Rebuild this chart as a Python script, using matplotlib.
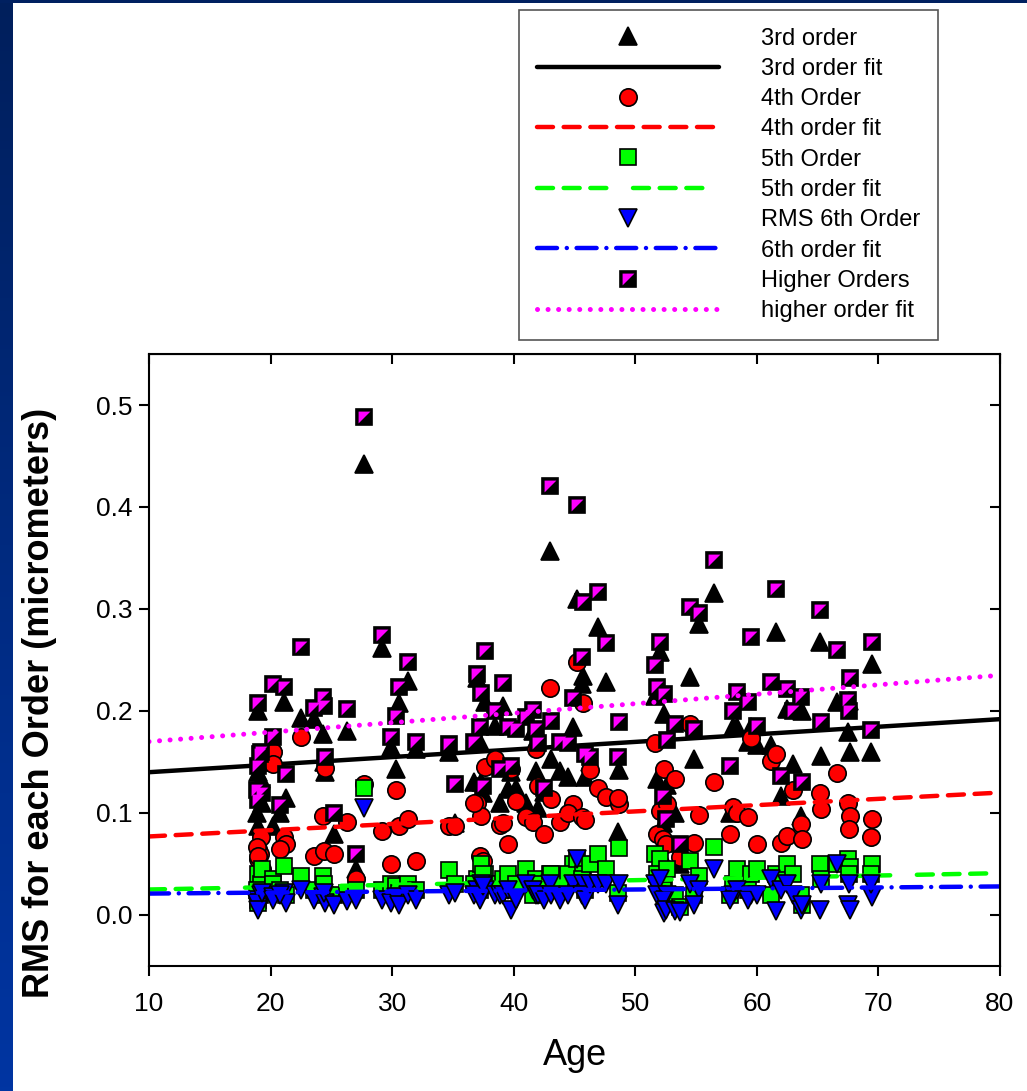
import matplotlib
matplotlib.use("Agg")
import matplotlib.pyplot as plt
import numpy as np
from matplotlib.path import Path
from matplotlib.legend_handler import HandlerTuple

plt.rcParams['font.family'] = ['Liberation Sans', 'DejaVu Sans']

# one row per subject: age, 3rd, 4th, 5th, 6th, higher orders (RMS, micrometers)
age = [19.0, 19.1, 19.0, 19.2, 18.9, 19.0, 19.3, 20.2, 20.2, 21.1, 21.3, 20.8,
       22.5, 23.6, 24.3, 24.5, 24.4, 25.2, 26.3, 27.0, 27.7, 29.2, 29.9, 30.3,
       30.6, 31.3, 32.0, 34.7, 35.2, 37.0, 37.6, 37.3, 38.5, 36.7, 37.2, 37.5,
       38.9, 39.1, 39.5, 39.8, 40.2, 41.0, 41.6, 41.8, 42.0, 42.5, 43.0, 43.1,
       43.8, 44.9, 44.5, 45.2, 45.7, 45.6, 45.9, 46.3, 46.9, 47.6, 48.7, 48.6,
       51.6, 52.0, 51.8, 52.4, 52.6, 52.3, 52.5, 53.3, 53.7, 54.5, 55.2, 54.8,
       56.5, 58.0, 58.4, 57.8, 59.5, 59.3, 60.0, 61.2, 61.6, 62.0, 62.5, 63.0,
       63.6, 63.7, 65.2, 65.3, 66.6, 67.5, 67.7, 67.6, 69.5, 69.4]
third = [0.200, 0.150, 0.140, 0.133, 0.100, 0.087, 0.110, 0.170, 0.087, 0.209, 0.115, 0.100,
         0.193, 0.192, 0.177, 0.140, 0.150, 0.079, 0.180, 0.045, 0.442, 0.262, 0.165, 0.143,
         0.208, 0.229, 0.163, 0.160, 0.090, 0.232, 0.209, 0.130, 0.185, 0.130, 0.170, 0.120,
         0.110, 0.205, 0.124, 0.140, 0.125, 0.110, 0.180, 0.141, 0.105, 0.121, 0.357, 0.153,
         0.141, 0.184, 0.135, 0.310, 0.234, 0.226, 0.135, 0.150, 0.282, 0.228, 0.142, 0.081,
         0.215, 0.258, 0.133, 0.197, 0.127, 0.090, 0.050, 0.100, 0.050, 0.233, 0.285, 0.153,
         0.316, 0.184, 0.184, 0.100, 0.184, 0.170, 0.167, 0.167, 0.277, 0.117, 0.202, 0.148,
         0.097, 0.200, 0.268, 0.156, 0.209, 0.179, 0.160, 0.210, 0.246, 0.160]
fourth = [0.065, 0.060, 0.055, 0.076, 0.067, 0.058, 0.045, 0.160, 0.148, 0.076, 0.070, 0.065,
          0.175, 0.058, 0.097, 0.144, 0.063, 0.060, 0.091, 0.035, 0.128, 0.082, 0.050, 0.123,
          0.087, 0.094, 0.053, 0.087, 0.087, 0.110, 0.145, 0.097, 0.153, 0.110, 0.058, 0.053,
          0.088, 0.090, 0.070, 0.143, 0.112, 0.096, 0.091, 0.163, 0.126, 0.079, 0.223, 0.114,
          0.091, 0.109, 0.100, 0.248, 0.208, 0.096, 0.093, 0.142, 0.125, 0.116, 0.109, 0.115,
          0.169, 0.102, 0.079, 0.143, 0.109, 0.075, 0.070, 0.133, 0.057, 0.187, 0.098, 0.071,
          0.130, 0.106, 0.100, 0.079, 0.174, 0.096, 0.070, 0.151, 0.158, 0.071, 0.077, 0.123,
          0.089, 0.075, 0.120, 0.104, 0.139, 0.110, 0.097, 0.084, 0.094, 0.076]
fifth = [0.040, 0.020, 0.015, 0.030, 0.025, 0.012, 0.045, 0.035, 0.030, 0.048, 0.020, 0.025,
         0.038, 0.025, 0.038, 0.020, 0.030, 0.020, 0.022, 0.025, 0.125, 0.025, 0.030, 0.028,
         0.022, 0.030, 0.025, 0.044, 0.030, 0.035, 0.040, 0.050, 0.030, 0.030, 0.025, 0.040,
         0.030, 0.035, 0.040, 0.025, 0.030, 0.045, 0.020, 0.035, 0.030, 0.025, 0.040, 0.040,
         0.030, 0.050, 0.040, 0.055, 0.040, 0.035, 0.025, 0.050, 0.060, 0.045, 0.066, 0.022,
         0.060, 0.055, 0.040, 0.030, 0.045, 0.025, 0.015, 0.020, 0.008, 0.053, 0.038, 0.020,
         0.067, 0.030, 0.045, 0.020, 0.040, 0.025, 0.045, 0.020, 0.040, 0.035, 0.050, 0.040,
         0.020, 0.010, 0.050, 0.035, 0.050, 0.055, 0.047, 0.040, 0.050, 0.040]
sixth = [0.015, 0.010, 0.008, 0.020, 0.012, 0.005, 0.022, 0.018, 0.015, 0.022, 0.012, 0.020,
         0.025, 0.015, 0.018, 0.012, 0.022, 0.010, 0.014, 0.015, 0.105, 0.015, 0.012, 0.018,
         0.010, 0.020, 0.015, 0.020, 0.022, 0.025, 0.025, 0.030, 0.020, 0.020, 0.015, 0.028,
         0.020, 0.020, 0.025, 0.005, 0.015, 0.030, 0.025, 0.020, 0.020, 0.015, 0.030, 0.020,
         0.015, 0.030, 0.020, 0.055, 0.030, 0.020, 0.015, 0.030, 0.030, 0.030, 0.030, 0.010,
         0.030, 0.035, 0.020, 0.002, 0.020, 0.015, 0.005, 0.004, 0.003, 0.030, 0.025, 0.010,
         0.045, 0.020, 0.025, 0.015, 0.020, 0.015, 0.020, 0.035, 0.004, 0.025, 0.030, 0.020,
         0.005, 0.010, 0.005, 0.030, 0.050, 0.010, 0.005, 0.030, 0.018, 0.030]
higher = [0.208, 0.158, 0.146, 0.160, 0.123, 0.113, 0.120, 0.226, 0.175, 0.224, 0.138, 0.108,
          0.263, 0.203, 0.214, 0.155, 0.205, 0.100, 0.202, 0.060, 0.488, 0.275, 0.175, 0.195,
          0.224, 0.248, 0.170, 0.168, 0.128, 0.236, 0.259, 0.218, 0.200, 0.170, 0.184, 0.126,
          0.143, 0.227, 0.184, 0.146, 0.182, 0.194, 0.201, 0.182, 0.169, 0.125, 0.421, 0.190,
          0.170, 0.213, 0.169, 0.402, 0.307, 0.253, 0.158, 0.155, 0.317, 0.267, 0.189, 0.155,
          0.245, 0.268, 0.224, 0.217, 0.172, 0.117, 0.094, 0.187, 0.070, 0.302, 0.296, 0.182,
          0.348, 0.200, 0.219, 0.146, 0.273, 0.209, 0.185, 0.228, 0.320, 0.136, 0.222, 0.200,
          0.214, 0.130, 0.299, 0.189, 0.260, 0.211, 0.232, 0.200, 0.268, 0.181]

# fitted lines, read at the ends of the x axis
fit_x = [10, 80]
fit3 = [0.140, 0.192]
fit4 = [0.077, 0.120]
fit5 = [0.025, 0.041]
fit6 = [0.021, 0.028]
fith = [0.170, 0.235]

fig = plt.figure(figsize=(10.27, 10.91), dpi=100)

# slide frame: blue strip on the left and along the top
strip = fig.add_axes([0, 0, 13 / 1027, 1])
strip.imshow(np.linspace(0, 1, 256).reshape(-1, 1), aspect='auto',
             cmap=matplotlib.colors.LinearSegmentedColormap.from_list('s', ['#001f5c', '#0035a2']))
strip.axis('off')
topbar = fig.add_axes([0, 1 - 3 / 1091, 1, 3 / 1091])
topbar.set_facecolor('#002060')
topbar.set_xticks([]); topbar.set_yticks([])
for s in topbar.spines.values():
    s.set_visible(False)

ax = fig.add_axes([149 / 1027, 125 / 1091, 851 / 1027, 612 / 1091])

ms = 12.5
mew = 1.2
ho_tri = Path([(-1, 1), (1, 1), (-1, -1), (-1, 1)], [Path.MOVETO, Path.LINETO, Path.LINETO, Path.CLOSEPOLY])

h3, = ax.plot(age, third, linestyle='none', marker='^', ms=ms, mfc='black', mec='black', mew=mew)
f3, = ax.plot(fit_x, fit3, color='black', lw=3.2, solid_capstyle='round')
h4, = ax.plot(age, fourth, linestyle='none', marker='o', ms=ms, mfc='#ff0000', mec='black', mew=mew)
f4, = ax.plot(fit_x, fit4, color='#ff0000', lw=3.2, dashes=(3.6, 2.4), dash_capstyle='round')
h5, = ax.plot(age, fifth, linestyle='none', marker='s', ms=ms - 1.5, mfc='#00ff00', mec='black', mew=mew)
f5, = ax.plot(fit_x, fit5, color='#00ff00', lw=3.2,
              dashes=(3.6, 2.4, 3.6, 2.4, 3.6, 6.0), dash_capstyle='round')
h6, = ax.plot(age, sixth, linestyle='none', marker='v', ms=ms, mfc='#0000ff', mec='black', mew=mew)
f6, = ax.plot(fit_x, fit6, color='#0000ff', lw=3.2,
              dashes=(4.5, 2.2, 0.01, 2.2), dash_capstyle='round')
hs, = ax.plot(age, higher, linestyle='none', marker='s', ms=ms - 1.5, mfc='black', mec='black', mew=mew)
ht, = ax.plot(age, higher, linestyle='none', marker=ho_tri, ms=ms - 4, mfc='#ff00ff', mew=0)
fh, = ax.plot(fit_x, fith, color='#ff00ff', lw=3.6, dashes=(0.01, 2.1), dash_capstyle='round')

ax.set_xlim(10, 80)
ax.set_ylim(-0.05, 0.55)
ax.set_xticks([10, 20, 30, 40, 50, 60, 70, 80])
ax.set_yticks([0.0, 0.1, 0.2, 0.3, 0.4, 0.5])
ax.set_yticklabels(['0.0', '0.1', '0.2', '0.3', '0.4', '0.5'])
for s in ax.spines.values():
    s.set_linewidth(1.5)
ax.tick_params(axis='both', which='major', direction='out', length=7, width=1.5,
               labelsize=19, top=False, right=False, pad=5)
ax.tick_params(axis='x', pad=12)
ax2 = ax.secondary_xaxis('top')
ax2.set_xticks([10, 20, 30, 40, 50, 60, 70, 80])
ax2.tick_params(direction='in', length=7, width=1.5, labeltop=False)
ay2 = ax.secondary_yaxis('right')
ay2.set_yticks([0.0, 0.1, 0.2, 0.3, 0.4, 0.5])
ay2.tick_params(direction='in', length=7, width=1.5, labelright=False)

ax.set_xlabel('Age', fontsize=26)
ax.xaxis.set_label_coords(0.5, -0.118)
ax.set_ylabel('RMS for each Order (micrometers)', fontsize=26, fontweight='bold')
ax.yaxis.set_label_coords(-0.108, 0.43)

handles = [h3, f3, h4, f4, h5, f5, h6, f6, (hs, ht), fh]
labels = ['3rd order', '3rd order fit', '4th Order', '4th order fit', '5th Order',
          '5th order fit', 'RMS 6th Order', '6th order fit', 'Higher Orders', 'higher order fit']
leg = fig.legend(handles, labels, loc='upper left', bbox_to_anchor=(519 / 1027, 1 - 10 / 1091),
                 fontsize=17, handlelength=7.7, handletextpad=1.8, labelspacing=0.35,
                 borderpad=0.75, borderaxespad=0, fancybox=False, framealpha=1,
                 edgecolor='#555555', numpoints=1, handler_map={tuple: HandlerTuple(ndivide=1)})
leg.get_frame().set_linewidth(1.2)

fig.savefig('out.png', dpi=100)
